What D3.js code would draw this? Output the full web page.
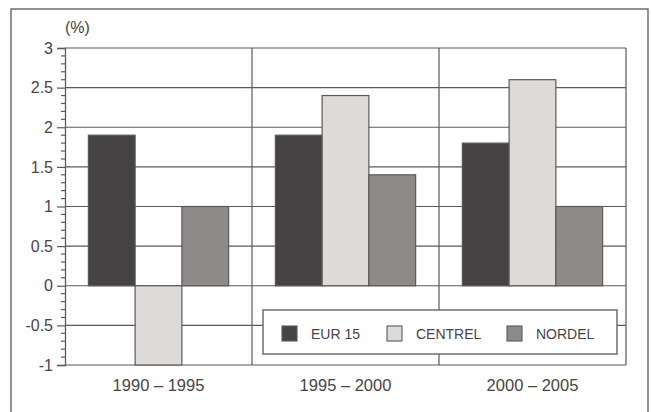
<!DOCTYPE html>
<html><head><meta charset="utf-8">
<script src="https://cdn.jsdelivr.net/npm/d3@7"></script>
<style>body{margin:0;background:#fff}svg{display:block}text{font-family:"Liberation Sans",Arial,sans-serif;fill:#484444}</style>
</head><body><svg id="c" width="651" height="412"></svg>
<script>
const categories = ["1990 – 1995", "1995 – 2000", "2000 – 2005"];
const seriesNames = ["EUR 15", "CENTREL", "NORDEL"];
const eur15 = [1.9, 1.9, 1.8];
const centrel = [-1.0, 2.4, 2.6];
const nordel = [1.0, 1.4, 1.0];
const yTicks = [-1, -0.5, 0, 0.5, 1, 1.5, 2, 2.5, 3];
const yUnit = "(%)";
const colors = ["#454343", "#dcdbda", "#8d8b8a"];
const lineColor = "#5f5757";

const series = [eur15, centrel, nordel];
const svg = d3.select("#c");
const m = {l: 65, r: 626, t: 48, b: 365};

// outer frame
svg.append("rect").attr("x", 11).attr("y", 9).attr("width", 637).attr("height", 420)
  .attr("fill", "none").attr("stroke", lineColor).attr("stroke-width", 1.3);

const x = d3.scaleBand().domain(categories).range([m.l, m.r]);
const xi = d3.scaleBand().domain(seriesNames).range([0, x.bandwidth()]).paddingOuter(0.5).paddingInner(0);
const y = d3.scaleLinear().domain([-1, 3]).range([m.b, m.t]);

// horizontal gridlines
svg.append("g").selectAll("line").data(yTicks).join("line")
  .attr("x1", m.l).attr("x2", m.r).attr("y1", d => y(d)).attr("y2", d => y(d))
  .attr("stroke", lineColor).attr("stroke-width", 1.2);
// vertical category separators
svg.append("g").selectAll("line").data(categories.slice(1).concat(["end"])).join("line")
  .attr("x1", (d, i) => i < 2 ? x(d) : m.r).attr("x2", (d, i) => i < 2 ? x(d) : m.r)
  .attr("y1", m.t).attr("y2", m.b).attr("stroke", lineColor).attr("stroke-width", 1.2);

// bars
categories.forEach((c, ci) => {
  series.forEach((s, si) => {
    const v = s[ci];
    svg.append("rect")
      .attr("x", x(c) + xi(seriesNames[si]))
      .attr("width", xi.bandwidth())
      .attr("y", y(Math.max(0, v)))
      .attr("height", Math.abs(y(v) - y(0)))
      .attr("fill", colors[si]).attr("stroke", lineColor).attr("stroke-width", 1.2);
  });
});

// y axis
const yAxis = d3.axisLeft(y).tickValues(yTicks).tickFormat(d => String(d)).tickSize(8).tickPadding(4);
const ga = svg.append("g").attr("transform", `translate(${m.l},0)`).call(yAxis);
ga.select(".domain").attr("stroke", lineColor).attr("stroke-width", 1.3);
ga.selectAll(".tick line").attr("stroke", lineColor).attr("stroke-width", 1.2);
ga.selectAll(".tick text").attr("font-family", null).style("font-size", "16px").attr("fill", "#484444");
const minor = d3.range(-10, 31).map(d => d / 10).filter(d => Math.abs(d * 2 - Math.round(d * 2)) > 1e-6);
svg.append("g").selectAll("line").data(minor).join("line")
  .attr("x1", m.l - 4).attr("x2", m.l).attr("y1", d => y(d)).attr("y2", d => y(d))
  .attr("stroke", lineColor).attr("stroke-width", 1.2);

svg.append("text").attr("x", 65).attr("y", 33).attr("text-anchor", "start")
  .style("font-size", "16px").text(yUnit);

// x labels
svg.append("g").selectAll("text").data(categories).join("text")
  .attr("x", d => x(d) + x.bandwidth() / 2).attr("y", 391)
  .attr("text-anchor", "middle").style("font-size", "16.5px").text(d => d);

// legend
const lg = svg.append("g");
lg.append("rect").attr("x", 263).attr("y", 310).attr("width", 354).attr("height", 44)
  .attr("fill", "#fff").attr("stroke", lineColor).attr("stroke-width", 1.3);
const lx = [282, 387, 507];
seriesNames.forEach((n, i) => {
  lg.append("rect").attr("x", lx[i]).attr("y", 326).attr("width", 15).attr("height", 15)
    .attr("fill", colors[i]).attr("stroke", lineColor).attr("stroke-width", 1.1);
  lg.append("text").attr("x", lx[i] + 29).attr("y", 338.5).style("font-size", "14px").text(n);
});
</script></body></html>
